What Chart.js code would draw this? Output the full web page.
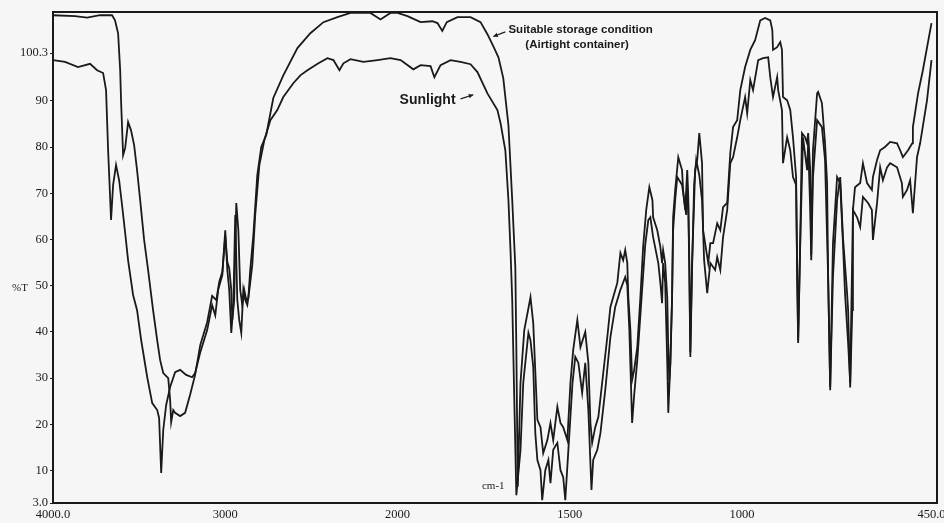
<!DOCTYPE html>
<html>
<head>
<meta charset="utf-8">
<script src="https://cdn.jsdelivr.net/npm/chart.js@4.4.1/dist/chart.umd.min.js"></script>
<style>
  html, body { margin: 0; padding: 0; background: #f6f6f6; }
  #wrap { width: 944px; height: 523px; position: relative; }
</style>
</head>
<body>
<div id="wrap"><canvas id="ir"></canvas></div>
<script>
// wavenumbers (cm-1) and %T
const storageWn = [4000, 3872, 3802, 3727, 3657, 3640, 3622, 3610, 3605, 3593, 3581, 3564, 3547, 3529, 3512, 3494, 3471, 3448, 3419, 3395,
  3378, 3360, 3331, 3320, 3314, 3302, 3291, 3262, 3233, 3204, 3175, 3145, 3105, 3076, 3052, 3035, 3017, 3000, 2988, 2977,
  2965, 2959, 2948, 2936, 2924, 2913, 2901, 2890, 2878, 2866, 2855, 2837, 2814, 2791, 2762, 2721, 2663, 2581, 2506, 2430,
  2349, 2273, 2215, 2157, 2099, 2041, 2000, 1971, 1933, 1899, 1884, 1870, 1857, 1826, 1788, 1759, 1739, 1722, 1707, 1693,
  1678, 1667, 1658, 1655, 1651, 1643, 1632, 1614, 1606, 1594, 1585, 1577, 1565, 1556, 1548, 1536, 1527, 1519, 1507, 1498,
  1490, 1478, 1469, 1455, 1446, 1440, 1435, 1426, 1417, 1406, 1391, 1382, 1374, 1362, 1353, 1345, 1339, 1333, 1330, 1324,
  1319, 1313, 1304, 1295, 1287, 1278, 1269, 1260, 1258, 1246, 1237, 1232, 1229, 1223, 1217, 1214, 1211, 1208, 1203, 1200,
  1194, 1185, 1174, 1171, 1165, 1159, 1156, 1153, 1150, 1145, 1136, 1130, 1124, 1116, 1113, 1104, 1098, 1092, 1084, 1072,
  1063, 1055, 1043, 1034, 1026, 1014, 1005, 991, 976, 962, 947, 933, 918, 912, 910, 898, 889, 884, 881, 869,
  860, 852, 843, 840, 837, 831, 826, 817, 811, 808, 802, 799, 794, 782, 779, 768, 759, 753, 750, 744,
  736, 724, 715, 707, 701, 692, 686, 678, 672, 657, 649, 637, 623, 620, 608, 599, 585, 570, 550, 541,
  533, 518, 506, 504, 489, 475, 450];
const storageT = [108.5, 108.3, 108.0, 108.5, 108.5, 107.4, 104.6, 96.6, 90.1, 78.2, 79.8, 85.4, 83.6, 80.4, 75.0, 68.5, 59.9, 53.4, 44.7, 38.2,
  33.9, 31.1, 30.0, 25.3, 20.5, 23.1, 22.5, 21.8, 22.5, 26.4, 30.7, 37.2, 42.1, 47.8, 46.9, 50.8, 53.0, 60.7, 55.1, 53.8,
  49.1, 42.6, 46.9, 67.9, 62.0, 49.1, 45.8, 49.1, 46.9, 47.3, 53.4, 60.9, 73.9, 80.0, 82.6, 90.6, 95.5, 101.4, 104.6, 107.0,
  108.1, 109.0, 109.0, 109.0, 107.6, 109.0, 109.0, 108.3, 107.0, 107.2, 106.8, 105.1, 107.0, 108.1, 108.1, 107.0, 104.4, 101.8, 99.4, 94.9,
  84.7, 68.5, 54.0, 36.1, 6.5, 29.0, 40.4, 47.5, 41.9, 21.0, 19.4, 13.8, 16.6, 20.3, 16.6, 23.8, 20.3, 19.4, 16.6, 29.0,
  36.1, 42.6, 36.7, 40.0, 33.3, 20.3, 16.0, 19.4, 21.6, 29.0, 38.9, 45.4, 47.5, 50.6, 57.1, 55.5, 57.7, 54.9, 47.5, 40.4,
  29.6, 31.8, 36.7, 47.5, 58.4, 66.4, 71.3, 68.5, 64.8, 62.0, 58.4, 54.9, 57.7, 54.9, 47.5, 36.1, 29.6, 33.3, 47.5, 64.8,
  70.7, 77.8, 75.0, 70.7, 66.4, 75.0, 69.2, 54.9, 35.6, 54.9, 75.0, 77.2, 83.0, 76.5, 62.0, 57.7, 54.9, 59.2, 59.2, 63.5,
  62.0, 67.0, 67.9, 78.7, 84.3, 85.8, 92.3, 97.3, 101.0, 103.1, 107.4, 107.9, 107.4, 105.3, 101.0, 101.6, 102.7, 101.0, 90.8, 90.1,
  88.0, 82.1, 73.5, 51.9, 38.2, 59.9, 83.0, 82.1, 80.8, 83.0, 75.0, 56.6, 79.3, 91.6, 91.9, 89.5, 80.8, 72.2, 51.9, 27.4,
  59.2, 73.5, 72.2, 59.2, 48.4, 37.6, 29.0, 66.4, 71.3, 72.2, 76.5, 72.2, 70.7, 73.5, 77.2, 79.3, 80.0, 81.1, 80.8, 79.3,
  77.8, 79.3, 80.8, 84.3, 91.6, 96.6, 106.8];

const sunlightWn = [4000, 3930, 3855, 3785, 3744, 3709, 3692, 3680, 3669, 3663, 3651, 3634, 3616, 3599, 3581, 3564, 3535, 3512, 3488, 3453,
  3424, 3395, 3384, 3372, 3360, 3343, 3320, 3291, 3262, 3227, 3192, 3175, 3145, 3105, 3076, 3058, 3041, 3017, 3000, 2988,
  2977, 2965, 2953, 2942, 2930, 2919, 2907, 2895, 2884, 2872, 2860, 2843, 2826, 2802, 2773, 2738, 2698, 2663, 2605, 2564,
  2523, 2459, 2407, 2372, 2337, 2314, 2273, 2198, 2116, 2041, 1991, 1954, 1933, 1904, 1893, 1875, 1846, 1817, 1788, 1768,
  1739, 1710, 1701, 1687, 1678, 1672, 1667, 1661, 1655, 1643, 1635, 1620, 1614, 1606, 1600, 1594, 1585, 1580, 1571, 1562,
  1556, 1548, 1536, 1527, 1519, 1513, 1504, 1492, 1484, 1475, 1464, 1455, 1446, 1437, 1432, 1420, 1411, 1397, 1382, 1368,
  1353, 1339, 1333, 1327, 1321, 1319, 1313, 1304, 1292, 1281, 1272, 1266, 1258, 1243, 1237, 1232, 1229, 1223, 1217, 1214,
  1208, 1203, 1200, 1194, 1188, 1174, 1168, 1162, 1159, 1156, 1153, 1150, 1145, 1139, 1133, 1124, 1116, 1110, 1101, 1092,
  1078, 1072, 1063, 1055, 1043, 1034, 1026, 1014, 1005, 991, 985, 976, 968, 953, 939, 924, 918, 910, 898, 895,
  884, 881, 869, 860, 852, 843, 837, 831, 823, 811, 808, 802, 799, 794, 782, 768, 759, 750, 744, 736,
  724, 715, 707, 695, 692, 686, 680, 678, 666, 657, 649, 634, 623, 620, 608, 599, 591, 579, 570, 550,
  536, 533, 521, 512, 504, 492, 483, 463, 450];
const sunlightT = [98.8, 98.4, 97.3, 98.0, 96.6, 96.0, 92.3, 79.3, 69.6, 64.2, 71.8, 76.1, 72.8, 67.4, 61.4, 55.5, 48.0, 44.7, 38.2, 30.2,
  24.6, 23.1, 21.4, 9.5, 18.8, 24.2, 28.1, 31.3, 31.8, 30.7, 30.2, 31.1, 35.6, 40.4, 45.8, 43.6, 49.1, 52.3, 62.0, 53.4,
  49.1, 39.8, 45.8, 65.3, 46.9, 42.6, 39.8, 49.1, 46.9, 45.8, 49.1, 54.5, 65.3, 76.1, 81.5, 85.8, 88.0, 90.8, 93.8, 95.5,
  96.6, 98.1, 99.2, 98.8, 96.6, 98.1, 99.0, 98.4, 98.8, 99.2, 98.8, 96.8, 97.7, 97.5, 95.1, 97.7, 98.8, 98.4, 97.9, 96.2,
  91.6, 88.0, 85.2, 79.3, 68.5, 57.7, 46.9, 25.3, 4.7, 14.5, 29.0, 39.8, 38.2, 32.4, 18.1, 12.3, 10.1, 3.6, 10.1, 12.3,
  7.3, 14.5, 16.0, 10.1, 8.6, 3.6, 14.5, 29.0, 34.6, 33.3, 26.8, 33.3, 23.1, 5.8, 12.3, 14.5, 18.1, 27.4, 38.9, 45.4,
  49.1, 51.9, 50.1, 40.4, 25.3, 20.3, 26.4, 33.9, 46.9, 58.8, 64.2, 64.8, 60.5, 54.9, 50.6, 46.2, 54.9, 50.6, 33.3, 22.5,
  33.3, 47.5, 62.0, 68.5, 73.5, 71.8, 68.5, 65.3, 71.8, 67.4, 53.4, 34.6, 53.4, 71.8, 77.2, 73.9, 68.5, 55.5, 48.4, 54.9,
  53.4, 56.2, 53.4, 60.5, 66.4, 76.5, 77.8, 82.1, 85.8, 90.8, 87.3, 94.5, 92.3, 98.8, 99.2, 99.4, 95.1, 90.8, 95.1, 92.3,
  88.0, 76.5, 82.1, 79.3, 73.5, 71.8, 37.6, 59.2, 82.1, 75.0, 80.8, 66.4, 55.5, 73.5, 85.8, 84.3, 77.2, 51.9, 28.1, 51.9,
  68.5, 73.5, 60.5, 48.4, 44.7, 28.0, 44.7, 66.4, 64.8, 62.7, 69.2, 67.9, 66.4, 59.9, 67.9, 75.6, 72.8, 75.6, 76.5, 75.6,
  72.2, 69.2, 70.7, 72.8, 65.7, 77.8, 80.8, 90.1, 98.8];

const xTickWn = [4000, 3000, 2000, 1500, 1000, 450];
const xTickLabels = ['4000.0', '3000', '2000', '1500', '1000', '450.0'];
const yTickValues = [3.0, 10, 20, 30, 40, 50, 60, 70, 80, 90, 100.3];
const yTickLabels = ['3.0', '10', '20', '30', '40', '50', '60', '70', '80', '90', '100.3'];

// the instrument halves the scale above 2000 cm-1
function toAxis(wn) {
  return wn >= 2000 ? (4000 - wn) / 2 : 1000 + (2000 - wn);
}

function pairUp(wns, ts) {
  return wns.map((w, i) => ({ x: toAxis(w), y: ts[i] }));
}

const ink = '#1a1a1a';
const serif = '"Liberation Serif", "Times New Roman", serif';
const sans = '"Liberation Sans", Arial, sans-serif';

const decorations = {
  id: 'decorations',
  beforeDatasetsDraw(chart) {
    const a = chart.chartArea;
    const ctx = chart.ctx;
    ctx.save();
    ctx.strokeStyle = ink;
    ctx.lineWidth = 2;
    ctx.strokeRect(a.left, a.top, a.right - a.left, a.bottom - a.top);
    ctx.restore();
  },
  afterDatasetsDraw(chart) {
    const ctx = chart.ctx;
    const xs = chart.scales.x, ys = chart.scales.y;
    const px = wn => xs.getPixelForValue(toAxis(wn));
    const py = t => ys.getPixelForValue(t);
    ctx.save();
    ctx.fillStyle = ink;
    ctx.strokeStyle = ink;
    ctx.textBaseline = 'middle';

    ctx.font = 'bold 11.5px ' + sans;
    ctx.textAlign = 'left';
    ctx.fillText('Suitable storage condition', px(1678), py(105.3));
    ctx.fillText('(Airtight container)', px(1629), py(102));

    ctx.font = 'bold 14px ' + sans;
    ctx.fillText('Sunlight', px(1994), py(90.1));

    arrow(ctx, px(1687), py(104.9), px(1722), py(103.9));
    arrow(ctx, px(1817), py(90.4), px(1780), py(91.3));

    ctx.font = '11px ' + serif;
    ctx.textAlign = 'center';
    ctx.fillText('cm-1', px(1722), py(6.7));

    ctx.font = '11px ' + serif;
    ctx.textAlign = 'left';
    ctx.fillText('%T', 12, py(49.5));
    ctx.restore();
  }
};

function arrow(ctx, x1, y1, x2, y2) {
  const ang = Math.atan2(y2 - y1, x2 - x1);
  ctx.lineWidth = 1.2;
  ctx.beginPath();
  ctx.moveTo(x1, y1);
  ctx.lineTo(x2, y2);
  ctx.stroke();
  ctx.beginPath();
  ctx.moveTo(x2, y2);
  ctx.lineTo(x2 - 5 * Math.cos(ang - 0.45), y2 - 5 * Math.sin(ang - 0.45));
  ctx.lineTo(x2 - 5 * Math.cos(ang + 0.45), y2 - 5 * Math.sin(ang + 0.45));
  ctx.closePath();
  ctx.fill();
}

new Chart(document.getElementById('ir'), {
  type: 'line',
  data: {
    datasets: [
      { label: 'Suitable storage condition (Airtight container)', data: pairUp(storageWn, storageT) },
      { label: 'Sunlight', data: pairUp(sunlightWn, sunlightT) }
    ]
  },
  options: {
    responsive: true,
    maintainAspectRatio: false,
    animation: false,
    parsing: false,
    layout: { padding: { top: 12, right: 7, left: 0, bottom: 0 } },
    elements: {
      line: { borderColor: ink, borderWidth: 1.8, tension: 0, fill: false },
      point: { radius: 0 }
    },
    plugins: { legend: { display: false }, tooltip: { enabled: false } },
    scales: {
      x: {
        type: 'linear',
        min: 0,
        max: 2566,
        border: { display: false },
        grid: { display: false, drawTicks: false },
        afterBuildTicks: s => { s.ticks = xTickWn.map(w => ({ value: toAxis(w) })); },
        afterFit: s => { s.height = 20; s.paddingLeft = 0; s.paddingRight = 0; },
        ticks: {
          padding: 4,
          maxRotation: 0,
          autoSkip: false,
          color: ink,
          font: { family: serif, size: 12.5 },
          callback: (v, i) => xTickLabels[i]
        }
      },
      y: {
        min: 3,
        max: 109.2,
        border: { display: false },
        grid: { display: true, drawOnChartArea: false, drawTicks: true, tickLength: 3, color: ink },
        afterBuildTicks: s => { s.ticks = yTickValues.map(v => ({ value: v })); },
        afterFit: s => { s.width = 53; },
        ticks: {
          padding: 2,
          autoSkip: false,
          color: ink,
          font: { family: serif, size: 12.5 },
          callback: (v, i) => yTickLabels[i]
        }
      }
    }
  },
  plugins: [decorations]
});
</script>
</body>
</html>
